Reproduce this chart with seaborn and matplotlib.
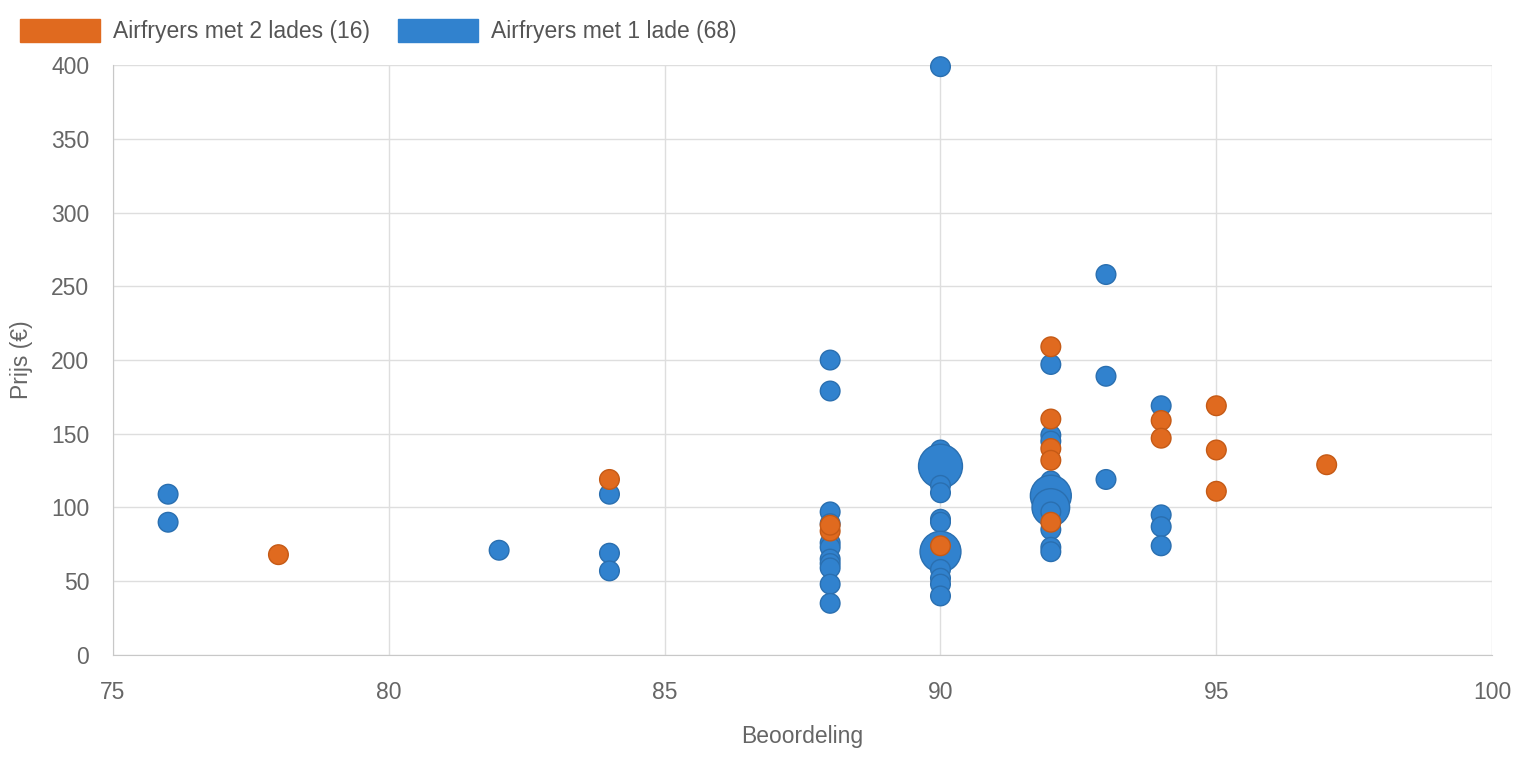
import matplotlib
matplotlib.use("Agg")
import matplotlib.pyplot as plt
import seaborn as sns
import pandas as pd
from matplotlib.patches import Patch

# Airfryers met 2 lades
twee_score = [78, 84, 88, 88, 90, 92, 92, 92, 92, 92, 94, 94, 95, 95, 95, 97]
twee_prijs = [68, 119, 84, 88, 74, 209, 160, 140, 132, 90, 159, 147, 169, 139, 111, 129]
twee_aantal = [1] * len(twee_score)

# Airfryers met 1 lade
een_score = [76, 76, 82, 84, 84, 84,
             88, 88, 88, 88, 88, 88, 88, 88, 88, 88, 88,
             90, 90, 90, 90, 90, 90, 90, 90, 90, 90, 90, 90, 90,
             92, 92, 92, 92, 92, 92, 92, 92, 92, 92, 92,
             93, 93, 93, 94, 94, 94, 94]
een_prijs = [109, 90, 71, 109, 69, 57,
             200, 179, 97, 89, 76, 73, 65, 62, 59, 48, 35,
             399, 139, 134, 128, 115, 110, 92, 90, 70, 58, 52, 48, 40,
             197, 149, 145, 118, 113, 108, 100, 97, 85, 73, 70,
             258, 189, 119, 169, 95, 87, 74]
een_aantal = [1, 1, 1, 1, 1, 1,
              1, 1, 1, 1, 1, 1, 1, 1, 1, 1, 1,
              1, 1, 1, 7, 1, 1, 1, 1, 6, 1, 1, 1, 1,
              1, 1, 1, 1, 1, 6, 5, 1, 1, 1, 1,
              1, 1, 1, 1, 1, 1, 1]

label_twee = "Airfryers met 2 lades (16)"
label_een = "Airfryers met 1 lade (68)"
oranje = "#E06A1F"
blauw = "#3182CE"
grijs = "#666666"
fs = 16.5

df = pd.concat([
    pd.DataFrame({"score": een_score, "prijs": een_prijs, "aantal": een_aantal, "type": label_een}),
    pd.DataFrame({"score": twee_score, "prijs": twee_prijs, "aantal": twee_aantal, "type": label_twee}),
], ignore_index=True)

sns.set_style("white")
plt.rcParams["font.family"] = ["Liberation Sans", "DejaVu Sans"]

fig = plt.figure(figsize=(15.18, 7.58), dpi=100)
ax = fig.add_axes([0.0744, 0.136, 0.9086, 0.778])

sns.scatterplot(data=df, x="score", y="prijs", hue="type", size="aantal",
                palette={label_een: blauw, label_twee: oranje},
                sizes=(200, 1000), size_norm=(1, 7), legend=False,
                edgecolor=[("#2A6FB0" if t == label_een else "#C55A16") for t in df["type"]],
                linewidth=1, alpha=1, ax=ax, zorder=3, clip_on=False)

ax.set_xlim(75, 100)
ax.set_ylim(0, 400)
ax.set_xticks(range(75, 101, 5))
ax.set_yticks(range(0, 401, 50))
ax.grid(True, color="#DEDEDE", linewidth=1)
for s in ["top", "right"]:
    ax.spines[s].set_visible(False)
for s in ["left", "bottom"]:
    ax.spines[s].set_color("#C8C8C8")
ax.tick_params(axis="both", labelcolor=grijs, labelsize=fs, length=12, width=1,
               color="#DEDEDE", pad=5)
ax.tick_params(axis="x", pad=7)
ax.set_xlabel("Beoordeling", fontsize=fs, color=grijs)
ax.set_ylabel("Prijs (€)", fontsize=fs, color=grijs)
ax.xaxis.set_label_coords(0.5, -0.139)
ax.xaxis.label.set_va("center")
ax.yaxis.set_label_coords(-0.066, 0.5)
ax.yaxis.label.set_va("center")

handles = [Patch(facecolor=oranje, edgecolor=oranje), Patch(facecolor=blauw, edgecolor=blauw)]
fig.legend(handles, [label_twee, label_een], loc="upper left",
           bbox_to_anchor=(20 / 1518, 1 - 19 / 758), ncol=2, frameon=False,
           fontsize=fs, handlelength=3.49, handleheight=1.2,
           handletextpad=0.57, columnspacing=1.2, labelcolor="#555555",
           borderpad=0, borderaxespad=0)

fig.savefig("out.png", dpi=100)
